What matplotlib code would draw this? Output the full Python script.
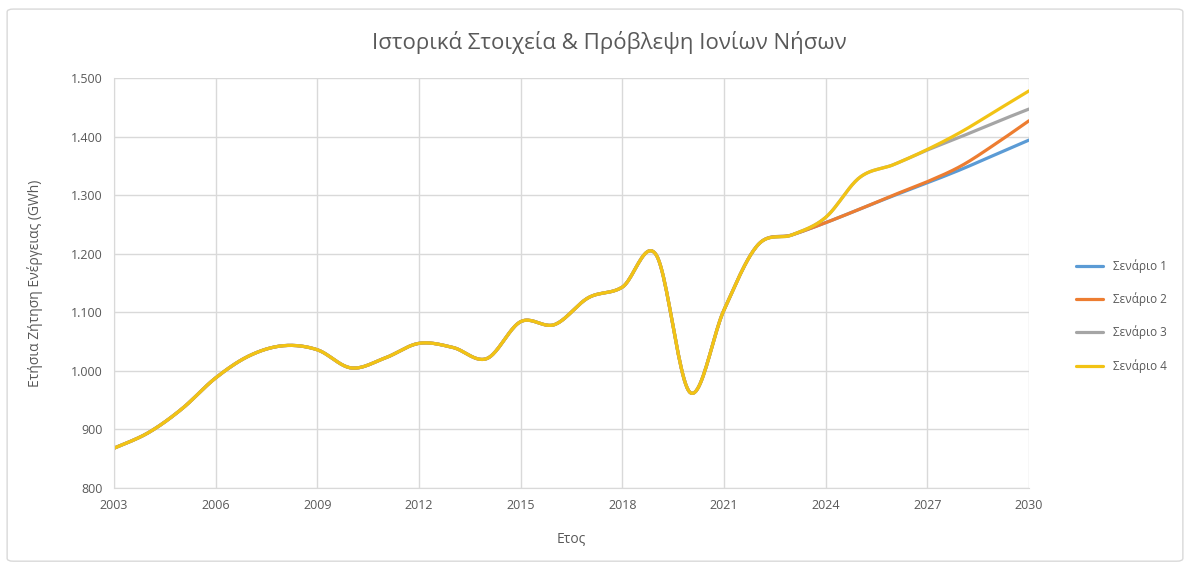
"""
Ιστορικά στοιχεία & πρόβλεψη ζήτησης ενέργειας - Ιόνια Νησιά
"""

import numpy as np
from matplotlib import pyplot as plt
from matplotlib.patches import FancyBboxPatch
from matplotlib.ticker import FuncFormatter, FixedLocator, MultipleLocator

# Data
years = list(range(2003, 2031))
history = [868, 894, 935, 988, 1026, 1043, 1036, 1005, 1022, 1047, 1040,
           1021, 1084, 1079, 1125, 1143, 1198, 963, 1104, 1215, 1232]
scenario_1 = [1253, 1276, 1299, 1321, 1344, 1369, 1394]
scenario_2 = [1253, 1276, 1300, 1323, 1350, 1387, 1427]
scenario_3 = [1262, 1330, 1352, 1377, 1400, 1424, 1447]
scenario_4 = [1262, 1330, 1352, 1378, 1408, 1443, 1478]
labels = ["Σενάριο 1", "Σενάριο 2", "Σενάριο 3", "Σενάριο 4"]
colors = ["#5B9BD5", "#ED7D31", "#A5A5A5", "#F2C314"]

FONT = ["Open Sans", "DejaVu Sans"]
GREY = "#595959"


def smooth(x, y, n=24):
    # Bezier smoothing like Excel's "smoothed line"
    x = np.asarray(x, float)
    y = np.asarray(y, float)
    px = np.concatenate([[x[0]], x, [x[-1]]])
    py = np.concatenate([[y[0]], y, [y[-1]]])
    t = np.linspace(0, 1, n)[:, None]
    xs, ys = [], []
    for i in range(1, len(px) - 2):
        p0 = np.array([px[i], py[i]])
        p3 = np.array([px[i + 1], py[i + 1]])
        c1 = p0 + (p3 - np.array([px[i - 1], py[i - 1]])) / 6
        c2 = p3 - (np.array([px[i + 2], py[i + 2]]) - p0) / 6
        b = ((1 - t) ** 3) * p0 + 3 * ((1 - t) ** 2) * t * c1 \
            + 3 * (1 - t) * t ** 2 * c2 + t ** 3 * p3
        xs.append(b[:, 0])
        ys.append(b[:, 1])
    return np.concatenate(xs), np.concatenate(ys)


fig = plt.figure(figsize=(11.9, 5.68), dpi=100)
fig.patches.append(FancyBboxPatch((0.006, 0.012), 0.988, 0.972,
                                  boxstyle="round,pad=0,rounding_size=0.005",
                                  transform=fig.transFigure, fill=False,
                                  edgecolor="#D9D9D9", linewidth=1))
ax = fig.add_axes([0.0958, 0.1408, 0.7689, 0.7219])

for vals, lab, col in zip([scenario_1, scenario_2, scenario_3, scenario_4],
                          labels, colors):
    sx, sy = smooth(years, history + vals)
    ax.plot(sx, sy, color=col, linewidth=2.3, label=lab, solid_capstyle="round")

ax.set_xlim(2003, 2030)
ax.set_ylim(800, 1500)
ax.xaxis.set_major_locator(FixedLocator(years[::3]))
ax.yaxis.set_major_locator(MultipleLocator(100))
ax.yaxis.set_major_formatter(
    FuncFormatter(lambda v, p: f"{int(v):,}".replace(",", ".")))
ax.grid(True, color="#D9D9D9", linewidth=1)
ax.set_axisbelow(True)
for side in ["top", "right"]:
    ax.spines[side].set_visible(False)
for side in ["left", "bottom"]:
    ax.spines[side].set_color("#D9D9D9")
ax.tick_params(length=0, colors=GREY, labelsize=9, pad=8)
for lbl in ax.get_xticklabels() + ax.get_yticklabels():
    lbl.set_family(FONT)

ax.set_xlabel("Ετος", color=GREY, fontsize=10, family=FONT, labelpad=14)
ax.set_ylabel("Ετήσια Ζήτηση Ενέργειας (GWh)", color=GREY, fontsize=10,
              family=FONT, labelpad=20)
fig.suptitle("Ιστορικά Στοιχεία & Πρόβλεψη Ιονίων Νήσων", x=0.512, y=0.945,
             color=GREY, fontsize=16, family=FONT)

leg = ax.legend(loc="center left", bbox_to_anchor=(1.04, 0.42), frameon=False,
                prop={"family": FONT, "size": 8.5}, labelspacing=1.65,
                handlelength=2.3)
for t in leg.get_texts():
    t.set_color(GREY)

fig.savefig("out.png", dpi=100)
plt.close()
